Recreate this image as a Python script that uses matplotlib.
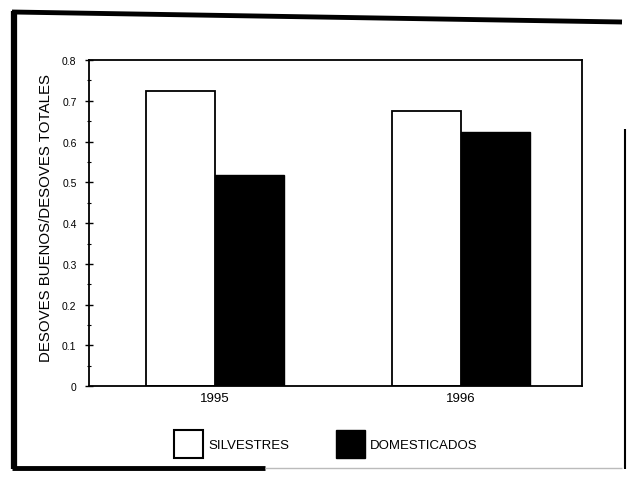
import matplotlib.pyplot as plt
import numpy as np
from matplotlib.lines import Line2D
from matplotlib.patches import Patch

plt.rcParams['font.family'] = ['Liberation Sans', 'DejaVu Sans']

years = ['1995', '1996']
silvestres = [0.724, 0.674]
domesticados = [0.517, 0.623]
ylabel = 'DESOVES BUENOS/DESOVES TOTALES'

fig = plt.figure(figsize=(6.27, 4.81), dpi=100)
ax = fig.add_axes([0.142, 0.195, 0.786, 0.678])

x = np.arange(len(years))
w = 0.28
ax.bar(x - w / 2, silvestres, w, color='white', edgecolor='black', linewidth=1.3, label='SILVESTRES')
ax.bar(x + w / 2, domesticados, w, color='black', edgecolor='black', linewidth=1.0, label='DOMESTICADOS')

ax.set_xlim(-0.51, 1.49)
ax.set_ylim(0, 0.8)
ax.set_xticks(x)
ax.set_xticklabels(years, fontsize=9.5)
ax.tick_params(axis='x', length=0, pad=4)

yt = np.arange(0, 0.81, 0.1)
ax.set_yticks(yt)
ax.set_yticklabels(['0', '0.1', '0.2', '0.3', '0.4', '0.5', '0.6', '0.7', '0.8'], fontsize=7.5)
ax.set_yticks(np.arange(0.05, 0.8, 0.1), minor=True)
ax.tick_params(axis='y', which='major', direction='inout', length=6, width=1, pad=6)
ax.tick_params(axis='y', which='minor', direction='inout', length=3, width=0.8)
ax.set_ylabel(ylabel, fontsize=10.8)
ax.yaxis.set_label_coords(-0.073, 0.518)
for s in ax.spines.values():
    s.set_linewidth(1.3)

handles = [Patch(facecolor='white', edgecolor='black', linewidth=1.5),
           Patch(facecolor='black', edgecolor='black')]
fig.legend(handles, ['SILVESTRES', 'DOMESTICADOS'], loc='center', bbox_to_anchor=(0.52, 0.075),
           ncol=2, frameon=False, fontsize=9.5, handlelength=2.2, handleheight=2.8,
           handletextpad=0.4, columnspacing=3.5)

# scanned frame around the figure
W, H = 627, 481
def fl(x0, y0, x1, y1, lw, c='black'):
    fig.add_artist(Line2D([x0 / W, x1 / W], [1 - y0 / H, 1 - y1 / H], color=c, lw=lw,
                          transform=fig.transFigure, solid_capstyle='butt'))
fl(14, 12, 14, 470, 4.5)
fl(12, 13, 622, 23, 3.5)
fl(12, 469, 265, 469, 3.5)
fl(265, 469, 622, 469, 1.0, '#bbbbbb')
fl(625, 130, 625, 470, 1.5)

fig.savefig('out.png', dpi=100)
